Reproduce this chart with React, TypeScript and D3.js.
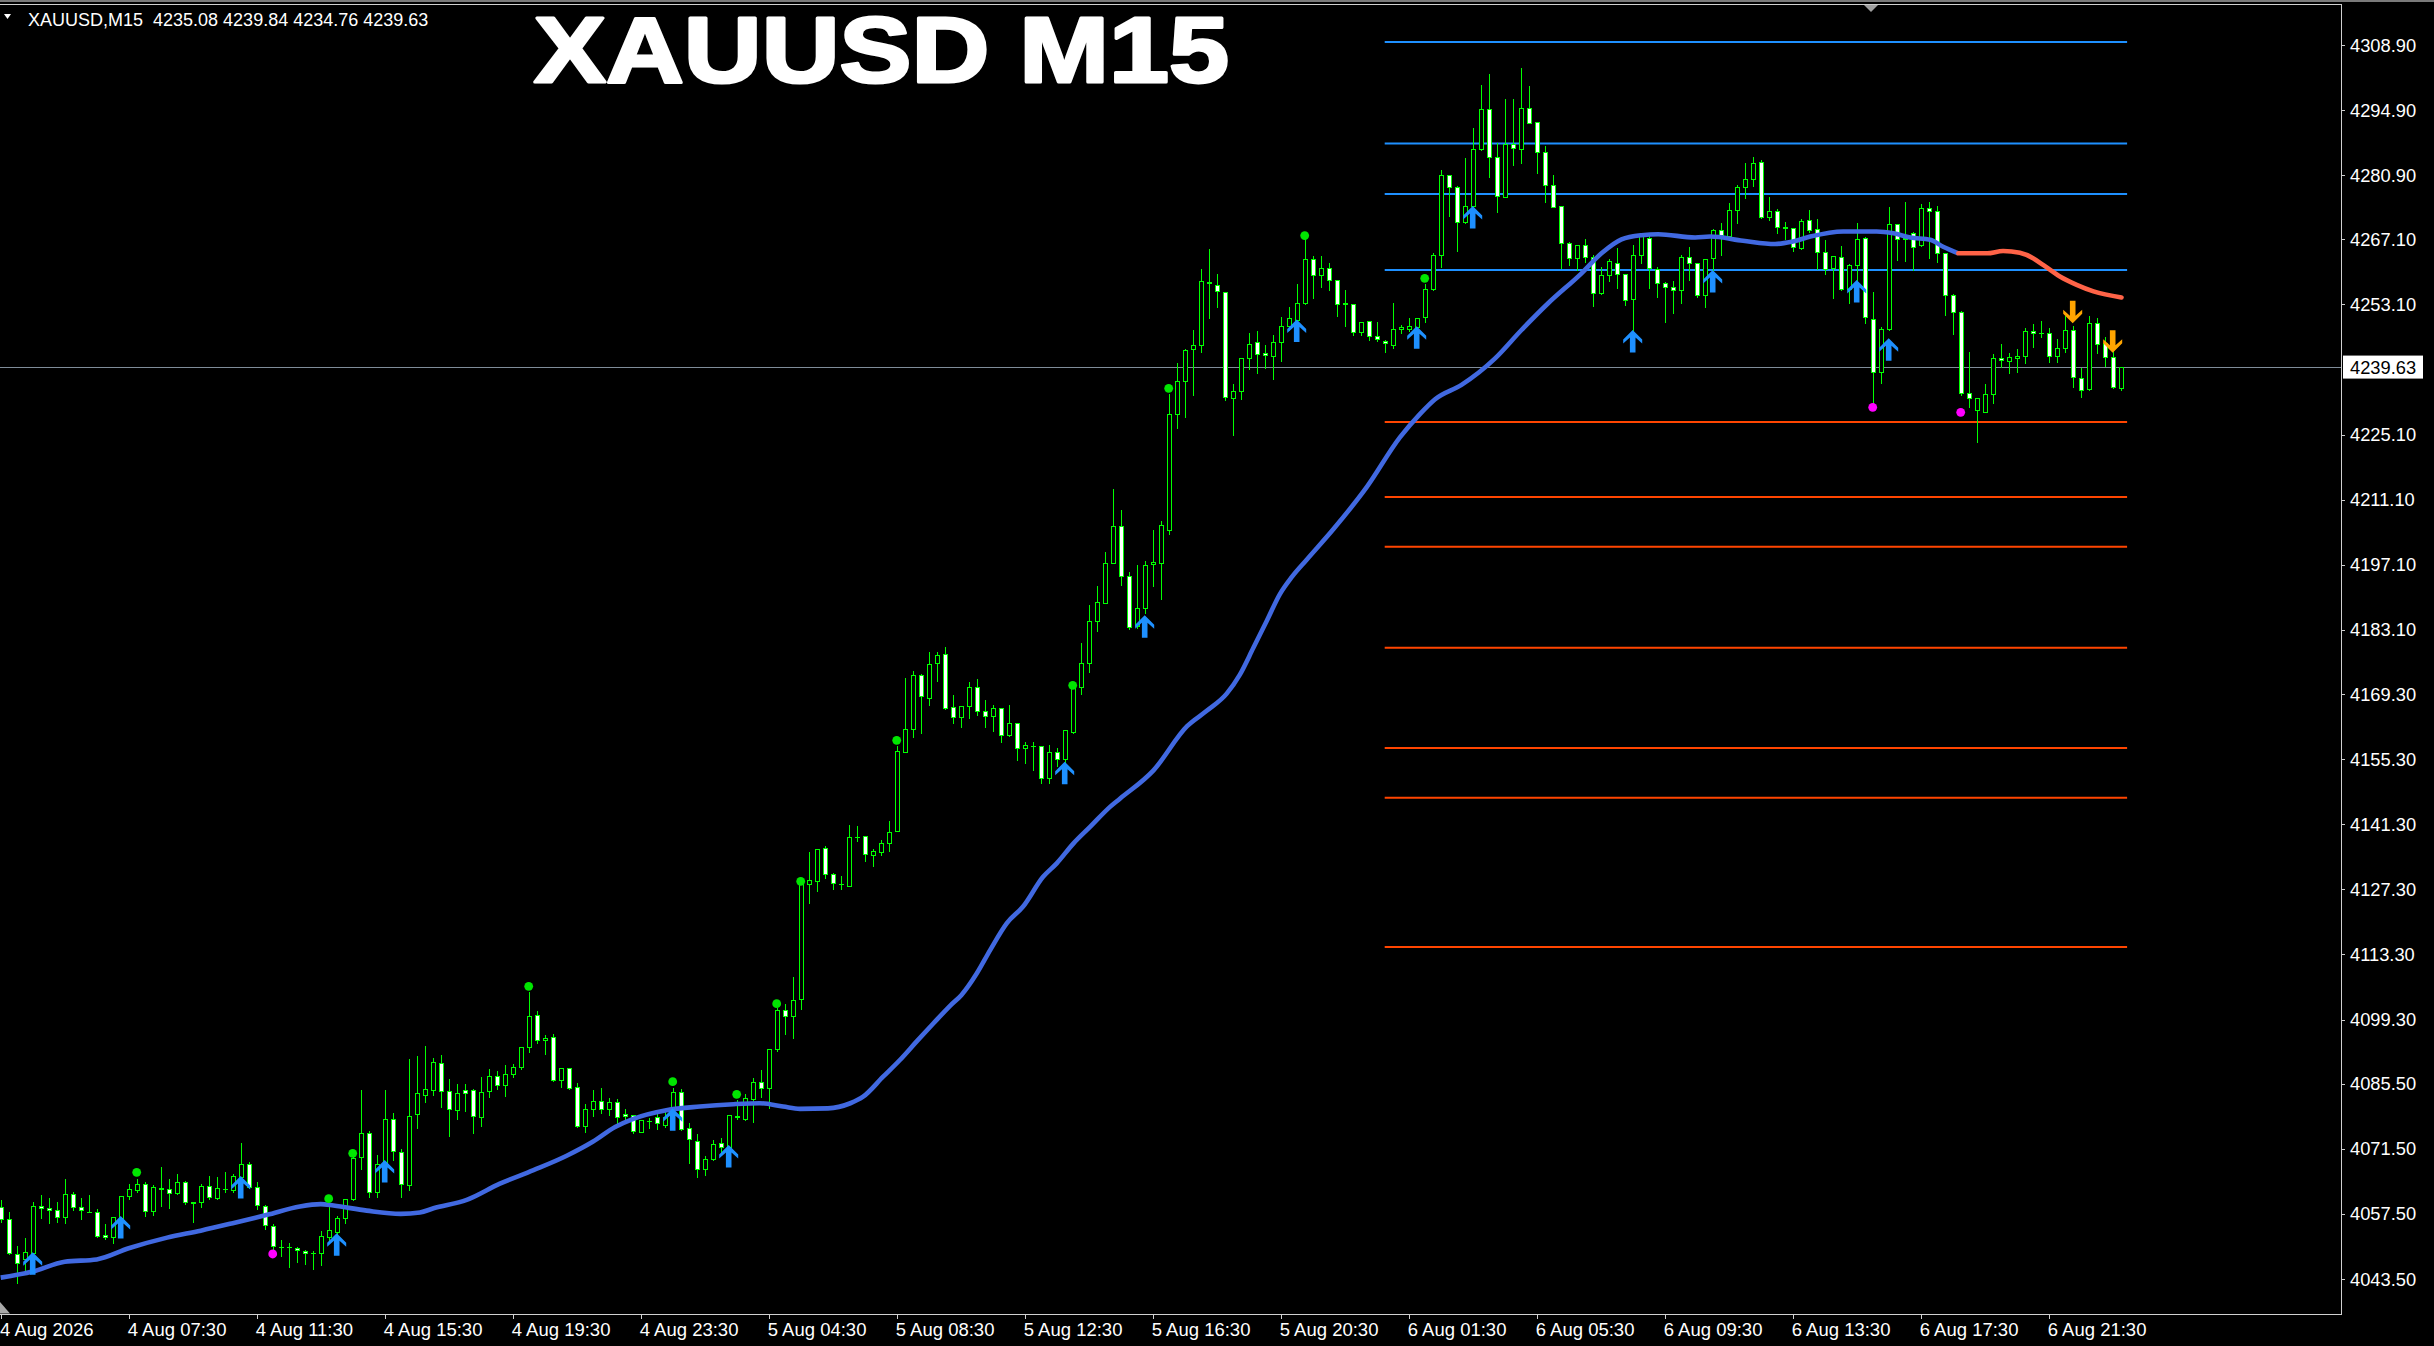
import React from "react";
import * as d3 from "d3";

// ---------- DATA ----------
const opens: number[] = [
4059.06,4056.34,4048.81,4047.81,4049.17,4059.13,4058.85,4058.28,4056.77,4061.72,
4058.92,4057.99,4057.84,4052.90,4052.47,4056.55,4061.36,4062.65,4063.86,4058.13,
4063.15,4062.79,4061.93,4064.29,4059.99,4059.99,4063.58,4061.00,4062.93,4062.65,
4065.52,4068.17,4063.36,4059.28,4054.98,4050.46,4050.32,4050.25,4049.60,4049.03,
4049.03,4052.61,4053.69,4056.70,4060.71,4069.67,4074.98,4062.15,4068.24,4077.99,
4070.89,4063.65,4078.92,4083.15,4084.08,4090.03,4084.01,4079.78,4084.08,4084.08,
4078.27,4083.94,4087.24,4085.16,4087.52,4089.03,4093.33,4100.21,4094.90,4095.48,
4086.23,4088.81,4084.72,4076.48,4080.00,4081.72,4080.14,4081.50,4078.99,4078.85,
4075.19,4077.56,4078.27,4076.70,4080.21,4083.79,4076.05,4073.26,4067.09,4069.31,
4072.68,4071.82,4078.49,4077.99,4082.14,4085.80,4084.51,4092.90,4101.29,4100.00,
4103.65,4128.39,4129.17,4136.13,4130.53,4128.53,4128.10,4138.64,4138.71,4134.62,
4135.41,4137.20,4139.93,4156.92,4161.72,4173.33,4168.53,4175.91,4177.85,4166.45,
4164.30,4166.81,4170.75,4165.59,4164.51,4166.23,4160.57,4163.01,4157.63,4158.21,
4158.14,4151.18,4156.77,4155.41,4161.22,4170.90,4176.06,4184.95,4188.98,4197.54,
4205.35,4194.74,4184.04,4187.91,4197.37,4197.54,4204.53,4229.63,4236.71,4243.46,
4244.28,4257.86,4257.29,4255.81,4232.93,4234.41,4241.57,4244.94,4242.64,4242.06,
4244.94,4248.40,4249.80,4253.34,4262.97,4259.35,4261.00,4258.28,4253.34,4253.17,
4247.16,4249.47,4246.26,4245.19,4244.28,4247.74,4247.75,4248.32,4250.33,4256.35,
4263.66,4280.87,4278.29,4270.76,4274.20,4286.46,4295.06,4284.88,4276.28,4287.68,
4286.46,4295.28,4292.26,4285.81,4278.79,4274.27,4266.24,4263.02,4265.81,4263.38,
4255.49,4259.36,4261.94,4259.58,4254.20,4263.73,4267.32,4260.65,4257.64,4256.78,
4256.21,4263.38,4261.94,4255.13,4263.02,4269.04,4267.82,4273.42,4278.43,4280.01,
4283.67,4271.84,4273.20,4269.69,4269.47,4265.32,4271.19,4269.26,4264.46,4260.87,
4263.38,4256.36,4261.59,4267.32,4249.90,4238.51,4247.75,4270.33,4267.11,4268.40,
4265.89,4273.77,4273.20,4264.10,4255.06,4251.55,4234.13,4230.40,4230.05,4233.77,
4241.52,4241.01,4241.52,4242.02,4247.47,4246.89,4246.89,4242.02,4243.67,4247.61,
4237.21,4234.85,4249.04,4244.74,4241.87,4235.08
];
const highs: number[] = [
4060.64,4058.20,4050.82,4052.54,4060.28,4061.72,4061.07,4060.35,4065.16,4062.43,
4061.07,4061.72,4058.70,4055.48,4056.85,4061.50,4064.08,4065.30,4064.58,4063.86,
4067.81,4065.16,4066.23,4064.80,4060.06,4064.08,4065.80,4065.66,4066.66,4066.23,
4072.97,4068.81,4064.58,4059.64,4055.48,4052.18,4051.46,4050.68,4050.03,4049.82,
4054.05,4059.28,4057.27,4060.93,4070.53,4084.37,4075.55,4070.32,4084.30,4079.35,
4071.61,4091.03,4091.68,4093.83,4091.32,4091.82,4086.66,4085.59,4085.59,4084.51,
4087.24,4088.81,4088.45,4089.74,4089.89,4093.62,4105.52,4101.36,4096.20,4096.34,
4089.03,4088.88,4085.80,4081.29,4084.30,4084.80,4082.58,4082.43,4080.21,4078.99,
4077.84,4078.42,4079.28,4079.85,4084.87,4084.51,4077.20,4074.83,4070.17,4073.54,
4074.12,4078.99,4082.14,4083.44,4086.88,4088.60,4093.11,4102.07,4102.79,4108.67,
4129.67,4135.55,4136.13,4136.84,4131.04,4130.32,4141.36,4141.14,4139.00,4136.13,
4138.06,4142.22,4158.35,4173.04,4174.48,4173.76,4178.56,4178.56,4179.64,4169.25,
4166.74,4172.11,4172.69,4168.17,4167.17,4166.31,4167.17,4163.08,4159.21,4159.21,
4158.21,4158.56,4157.99,4161.57,4171.25,4180.60,4188.60,4192.80,4200.00,4213.58,
4209.06,4195.73,4197.21,4198.19,4204.78,4206.84,4234.00,4240.75,4243.63,4247.82,
4260.91,4265.27,4259.76,4255.89,4236.20,4241.82,4247.16,4247.58,4244.70,4246.75,
4250.70,4252.76,4257.62,4267.33,4263.63,4263.63,4262.23,4258.36,4256.47,4253.50,
4249.55,4249.63,4249.63,4245.77,4253.58,4248.81,4250.47,4250.47,4257.64,4264.45,
4282.23,4280.94,4278.79,4284.74,4291.19,4300.51,4302.95,4288.11,4297.43,4297.43,
4304.24,4300.29,4292.55,4287.39,4281.15,4274.34,4266.82,4266.03,4267.32,4263.95,
4261.37,4263.02,4265.38,4259.65,4266.03,4268.54,4268.54,4261.37,4258.21,4258.36,
4263.95,4265.67,4262.30,4263.02,4269.61,4270.83,4275.21,4279.01,4283.67,4285.03,
4284.31,4276.43,4273.77,4271.12,4269.83,4271.62,4273.56,4271.62,4267.11,4263.60,
4265.89,4261.95,4270.91,4267.82,4255.96,4248.47,4274.28,4270.41,4275.42,4268.97,
4274.99,4275.42,4274.49,4264.24,4255.64,4251.91,4243.09,4233.13,4236.14,4242.59,
4244.74,4242.81,4243.67,4248.33,4249.19,4249.76,4248.33,4245.82,4250.84,4248.69,
4239.72,4250.84,4250.33,4246.32,4243.88,4239.84
];
const lows: number[] = [
4055.84,4048.88,4042.58,4044.94,4047.59,4056.70,4055.62,4055.84,4055.62,4058.35,
4056.48,4057.84,4052.61,4052.04,4051.18,4056.19,4060.64,4062.29,4057.06,4057.34,
4059.28,4058.70,4061.79,4059.56,4055.69,4058.99,4060.78,4060.64,4062.22,4062.29,
4065.16,4063.15,4058.49,4054.33,4049.89,4048.45,4046.02,4047.23,4046.80,4045.59,
4046.52,4051.68,4053.19,4055.48,4060.50,4067.09,4061.07,4061.07,4064.94,4069.10,
4061.21,4062.65,4075.91,4081.64,4083.08,4080.57,4074.33,4077.84,4079.71,4074.83,
4076.48,4082.72,4084.30,4082.86,4087.02,4088.60,4092.40,4094.33,4091.82,4086.16,
4084.87,4084.44,4076.27,4075.19,4078.63,4079.21,4078.78,4076.98,4077.84,4074.83,
4075.12,4076.05,4075.77,4076.27,4079.85,4075.55,4068.53,4065.52,4065.87,4069.10,
4070.53,4070.89,4077.99,4077.70,4077.34,4082.58,4080.21,4092.61,4096.20,4095.41,
4101.50,4124.44,4127.02,4129.82,4127.45,4127.45,4128.03,4137.70,4133.47,4132.40,
4134.69,4135.62,4139.85,4156.84,4160.14,4161.00,4166.95,4172.18,4166.09,4163.15,
4162.29,4164.23,4164.80,4162.15,4161.43,4159.07,4160.28,4155.12,4154.41,4152.97,
4150.25,4150.25,4153.83,4154.55,4160.86,4169.30,4174.10,4182.90,4188.90,4197.45,
4192.84,4183.21,4183.54,4186.67,4192.60,4189.80,4203.71,4226.59,4228.89,4233.58,
4242.97,4250.29,4252.52,4232.60,4224.94,4232.76,4239.18,4238.36,4239.35,4237.04,
4241.00,4247.58,4249.55,4253.17,4254.57,4256.80,4256.22,4250.70,4248.40,4246.59,
4246.59,4245.52,4245.27,4242.80,4243.63,4246.92,4247.40,4247.96,4249.40,4256.21,
4261.23,4272.19,4264.67,4270.54,4273.77,4286.31,4280.44,4273.05,4276.14,4283.09,
4283.59,4292.05,4281.30,4275.20,4273.98,4261.01,4261.58,4260.51,4262.30,4252.77,
4255.35,4258.21,4256.64,4252.98,4247.61,4262.09,4256.71,4254.77,4249.40,4251.19,
4253.34,4258.36,4254.77,4252.62,4260.51,4263.81,4267.68,4270.55,4276.07,4278.58,
4271.62,4271.26,4268.40,4267.18,4264.67,4264.96,4268.76,4260.66,4259.65,4254.42,
4256.21,4253.34,4258.36,4249.19,4231.84,4236.14,4247.61,4262.66,4262.52,4260.51,
4265.67,4263.02,4262.30,4250.84,4246.75,4233.63,4230.98,4223.60,4229.97,4231.98,
4239.58,4238.43,4238.65,4240.44,4244.03,4246.18,4240.80,4240.80,4242.95,4235.28,
4233.13,4234.78,4242.73,4239.87,4235.06,4234.76
];
const closes: number[] = [
4056.34,4049.17,4046.88,4049.24,4059.13,4058.70,4058.35,4056.77,4061.72,4058.92,
4058.28,4057.92,4052.83,4052.47,4056.77,4061.29,4062.79,4063.86,4058.13,4063.22,
4062.79,4061.93,4064.29,4059.99,4059.92,4063.43,4061.07,4063.00,4062.86,4065.59,
4068.17,4063.36,4059.42,4055.05,4050.68,4050.39,4050.30,4049.67,4049.03,4049.05,
4052.76,4054.05,4056.55,4060.64,4069.46,4074.83,4062.15,4068.17,4077.84,4070.96,
4063.86,4078.56,4083.44,4084.30,4090.10,4083.94,4080.00,4083.44,4083.44,4078.49,
4083.79,4087.24,4085.16,4087.52,4089.03,4093.33,4100.00,4094.90,4095.41,4086.23,
4088.81,4084.65,4076.48,4080.00,4081.72,4080.14,4081.50,4078.42,4078.49,4075.41,
4077.63,4077.55,4076.98,4078.27,4083.79,4075.69,4073.54,4067.09,4069.24,4072.47,
4071.82,4078.71,4078.42,4082.36,4085.80,4084.51,4092.90,4101.29,4100.00,4103.44,
4129.17,4129.32,4135.91,4130.53,4128.60,4128.46,4138.64,4138.56,4134.84,4135.55,
4137.20,4139.57,4156.99,4161.72,4173.33,4168.81,4175.70,4177.63,4166.23,4164.30,
4166.66,4170.75,4165.66,4164.51,4166.23,4160.43,4163.01,4157.63,4158.35,4158.14,
4151.18,4156.77,4155.27,4161.57,4170.89,4176.06,4184.95,4189.00,4197.54,4205.35,
4194.74,4183.79,4187.91,4196.96,4197.70,4205.77,4229.63,4236.71,4243.21,4244.28,
4258.11,4257.62,4255.97,4233.17,4234.41,4241.57,4244.70,4242.39,4242.23,4244.94,
4248.40,4250.21,4253.34,4262.97,4259.35,4261.00,4258.28,4253.17,4253.26,4247.16,
4249.22,4246.34,4245.68,4244.86,4247.74,4248.15,4248.46,4250.11,4256.35,4263.66,
4280.87,4278.29,4270.76,4274.20,4286.46,4295.06,4284.88,4276.42,4287.68,4286.67,
4295.28,4292.19,4285.96,4278.79,4274.13,4266.24,4263.02,4265.89,4263.38,4255.49,
4259.36,4262.44,4259.58,4254.06,4263.66,4268.04,4260.87,4257.64,4256.78,4256.21,
4263.38,4261.94,4255.13,4262.80,4269.11,4267.97,4273.42,4278.29,4280.01,4283.45,
4271.84,4273.20,4269.69,4269.62,4265.53,4271.05,4269.11,4264.31,4260.66,4263.52,
4256.36,4261.59,4267.18,4250.33,4238.51,4247.75,4270.33,4267.18,4267.47,4265.39,
4273.77,4273.20,4264.10,4255.14,4251.55,4233.99,4232.91,4232.91,4233.77,4241.52,
4241.16,4241.87,4242.09,4247.32,4246.89,4246.90,4242.02,4243.67,4247.61,4237.57,
4234.71,4249.04,4244.53,4241.87,4235.42,4239.63
];

// moving average (bar position, price)
const maBars: number[] = [0,4,8,12,16,20.8,25,29,33.3,37.4,40,41.6,45.75,50,52.4,54.1,58.25,62.4,66.6,70.75,74,76.8,79,83.2,87.4,91.6,94.9,97.8,99.9,103.4,106.2,107.8,110.3,112.4,114.5,116.6,118.7,120.1,122,123.7,125.75,127.8,130.3,132,134.1,136.2,138.7,139.9,144.1,148.3,150.75,153.25,154.9,156.6,158.25,159.9,161.4,163.25,166.6,170.75,174.9,177.4,179.3,182.6,186.8,190.1,193.4,197.6,200.1,202.6,205.1,207.2,211.8,213.7,217.8,221.8,223.9,226.2,230.3,234.5,236.6,238.7,241.2,242.8,244.7];
const maValues: number[] = [4043.8,4045.1,4047.2,4047.7,4050.1,4052.4,4053.9,4055.5,4057.3,4059.1,4059.6,4059.3,4058.2,4057.5,4057.8,4058.7,4060.5,4064.0,4066.9,4070.0,4073.0,4076.2,4077.9,4079.8,4080.6,4081.1,4081.3,4080.6,4080.1,4080.2,4081.3,4082.7,4087.0,4090.6,4094.6,4098.5,4102.3,4104.6,4109.2,4114.3,4120.0,4123.6,4130.0,4132.9,4137.2,4140.8,4145.1,4146.8,4152.9,4162.4,4165.7,4169.4,4173.5,4179.3,4185.0,4190.8,4194.5,4198.2,4204.8,4213.8,4224.5,4229.5,4232.7,4235.8,4241.5,4247.6,4253.3,4259.8,4264.1,4267.1,4268.0,4268.2,4267.5,4267.7,4266.8,4266.1,4266.6,4267.7,4268.8,4268.8,4268.4,4267.5,4267.0,4265.5,4264.1];
const maDownBars: number[] = [244.7,248.3,250.3,252.4,254.1,255.3,257.4,259.5,261.6,265.1];
const maDownValues: number[] = [4264.1,4264.1,4264.6,4264.2,4263.0,4261.6,4259.1,4257.3,4255.9,4254.6];

// signal markers
const greenDotBars: number[] = [17,41,44,66,84,92,97,100,112,134,146,163,178];
const greenDotPrices: number[] = [4066.45,4060.78,4070.53,4106.45,4085.94,4083.22,4102.72,4129.03,4159.35,4171.18,4235.07,4267.91,4258.72];
const magentaDotBars: number[] = [34,234,245];
const magentaDotPrices: number[] = [4048.88,4230.98,4229.90];
const upArrowBars: number[] = [4,15,30,42,48,84,91,133,143,162,177,184,204,214,232,236];
const upArrowPrices: number[] = [4049.24,4057.05,4065.65,4053.33,4069.09,4080.21,4072.32,4154.76,4186.27,4249.88,4248.40,4274.27,4247.60,4260.51,4258.36,4245.82];
const downArrowBars: number[] = [259,264];
const downArrowPrices: number[] = [4249.05,4242.72];

// horizontal levels
const levelStartBar = 173;
const levelEndBar = 265.8;
const blueLevels: number[] = [4309.55,4287.7,4276.85,4260.5];
const redLevels: number[] = [4227.82,4211.69,4201.0,4179.25,4157.7,4147.0,4114.92];

// axes
const yTickValues: number[] = [4308.9,4294.9,4280.9,4267.1,4253.1,4225.1,4211.1,4197.1,4183.1,4169.3,4155.3,4141.3,4127.3,4113.3,4099.3,4085.5,4071.5,4057.5,4043.5];
const xTickBars: number[] = [0,16,32,48,64,80,96,112,128,144,160,176,192,208,224,240,256];
const xTickLabels: string[] = ["4 Aug 2026","4 Aug 07:30","4 Aug 11:30","4 Aug 15:30","4 Aug 19:30","4 Aug 23:30","5 Aug 04:30","5 Aug 08:30","5 Aug 12:30","5 Aug 16:30","5 Aug 20:30","6 Aug 01:30","6 Aug 05:30","6 Aug 09:30","6 Aug 13:30","6 Aug 17:30","6 Aug 21:30"];

const symbol = "XAUUSD";
const timeframe = "M15";

export default function App() {
  const W = 2434, H = 1346;
  const chartRight = 2341.5, chartTop = 4.5, chartBottom = 1314.5;
  const x = d3.scaleLinear().domain([0, 265]).range([0.7, 2120.7]);
  const y = d3.scaleLinear().domain([4043.5, 4308.9]).range([1279, 45]);
  const font = "'Liberation Sans', Arial, sans-serif";
  const snap = (v: number) => Math.round(v) + 0.5;
  const lime = "#00ff00";
  const n = opens.length;
  const last = n - 1;
  const curPrice = closes[last];

  const maLine = d3.line<[number, number]>()
    .x((d) => x(d[0]))
    .y((d) => y(d[1]))
    .curve(d3.curveMonotoneX);
  const maUp = maLine(maBars.map((b, i) => [b, maValues[i]] as [number, number])) || "";
  const maDown = maLine(maDownBars.map((b, i) => [b, maDownValues[i]] as [number, number])) || "";

  const upArrow = (cx: number, ty: number) => {
    const p = [[0,0],[9.5,9.5],[9.5,13.5],[2.8,7.5],[2.8,22.5],[-2.8,22.5],[-2.8,7.5],[-9.5,13.5],[-9.5,9.5]];
    return p.map(([a, b]) => `${cx + a},${ty + b}`).join(" ");
  };
  const downArrow = (cx: number, by: number) => {
    const p = [[0,0],[9.5,-9.5],[9.5,-13.5],[2.8,-7.5],[2.8,-22.5],[-2.8,-22.5],[-2.8,-7.5],[-9.5,-13.5],[-9.5,-9.5]];
    return p.map(([a, b]) => `${cx + a},${by + b}`).join(" ");
  };

  const candles = opens.map((o, i) => {
    const h = highs[i], l = lows[i], c = closes[i];
    const cx = snap(x(i));
    const top = snap(y(Math.max(o, c)));
    const bot = snap(y(Math.min(o, c)));
    const bull = c >= o;
    return (
      <g key={i}>
        <line x1={cx} x2={cx} y1={snap(y(h))} y2={snap(y(l))} stroke={lime} strokeWidth={1} />
        {bot - top >= 1 ? (
          <rect x={cx - 2} y={top} width={4} height={bot - top} fill={bull ? "#000000" : "#ffffff"} stroke={lime} strokeWidth={1} />
        ) : (
          <line x1={cx - 2.5} x2={cx + 2.5} y1={top} y2={top} stroke={lime} strokeWidth={1} />
        )}
      </g>
    );
  });

  const curY = snap(y(curPrice));
  const header = `${symbol},${timeframe}  ${opens[last].toFixed(2)} ${highs[last].toFixed(2)} ${lows[last].toFixed(2)} ${closes[last].toFixed(2)}`;

  return (
    <svg width={W} height={H} viewBox={`0 0 ${W} ${H}`}
      style={{ position: "absolute", left: 0, top: 0, display: "block", background: "#000" }}>
      <defs>
        <clipPath id="plot">
          <rect x={0} y={chartTop} width={chartRight} height={chartBottom - chartTop} />
        </clipPath>
      </defs>
      <rect x={0} y={0} width={W} height={H} fill="#000000" />
      <rect x={0} y={0} width={W} height={2} fill="#7a7a7a" />

      <g clipPath="url(#plot)">
        {/* current price line */}
        <line x1={0} x2={chartRight} y1={curY} y2={curY} stroke="#7f8c99" strokeWidth={1} shapeRendering="crispEdges" />
        {/* levels */}
        {blueLevels.map((v, i) => (
          <line key={"b" + i} x1={x(levelStartBar)} x2={x(levelEndBar)} y1={y(v)} y2={y(v)} stroke="#1e90ff" strokeWidth={2} />
        ))}
        {redLevels.map((v, i) => (
          <line key={"r" + i} x1={x(levelStartBar)} x2={x(levelEndBar)} y1={y(v)} y2={y(v)} stroke="#ff4500" strokeWidth={2} />
        ))}
        {/* candles */}
        <g shapeRendering="crispEdges">{candles}</g>
        {/* moving average */}
        <path d={maUp} fill="none" stroke="#4169e1" strokeWidth={4.6} strokeLinejoin="round" />
        <path d={maDown} fill="none" stroke="#ff6347" strokeWidth={4.6} strokeLinejoin="round" strokeLinecap="round" />
        {/* dots */}
        {greenDotBars.map((b, i) => (
          <circle key={"g" + i} cx={x(b)} cy={y(greenDotPrices[i])} r={4.4} fill="#00e600" />
        ))}
        {magentaDotBars.map((b, i) => (
          <circle key={"m" + i} cx={x(b)} cy={y(magentaDotPrices[i])} r={4.4} fill="#ff00ff" />
        ))}
        {/* arrows */}
        {upArrowBars.map((b, i) => (
          <polygon key={"u" + i} points={upArrow(x(b), y(upArrowPrices[i]))} fill="#1e90ff" />
        ))}
        {downArrowBars.map((b, i) => (
          <polygon key={"d" + i} points={downArrow(x(b), y(downArrowPrices[i]))} fill="#ffa500" />
        ))}
      </g>

      {/* frame */}
      <line x1={0} x2={chartRight} y1={chartTop} y2={chartTop} stroke="#d0d0d0" strokeWidth={1} shapeRendering="crispEdges" />
      <line x1={chartRight} x2={chartRight} y1={chartTop} y2={chartBottom} stroke="#d0d0d0" strokeWidth={1} shapeRendering="crispEdges" />
      <line x1={0} x2={chartRight} y1={chartBottom} y2={chartBottom} stroke="#d0d0d0" strokeWidth={1} shapeRendering="crispEdges" />
      <polygon points="1864,5 1878,5 1871,12" fill="#a0a0a0" />
      <polygon points="0,1302 10,1313.5 0,1313.5" fill="#a9a9a9" />

      {/* header */}
      <polygon points="4,14 11,14 7.5,19" fill="#ffffff" />
      <text x={28} y={26} fill="#ffffff" fontFamily={font} fontSize={18} style={{ whiteSpace: "pre" }}>{header}</text>

      {/* title */}
      <text x={534} y={81.5} fill="#ffffff" stroke="#ffffff" strokeWidth={3} strokeLinejoin="round"
        fontFamily={font} fontWeight="bold" fontSize={92}
        textLength={695} lengthAdjust="spacingAndGlyphs">{`${symbol} ${timeframe}`}</text>

      {/* right axis */}
      {yTickValues.map((v, i) => (
        <g key={"yt" + i}>
          <line x1={chartRight} x2={chartRight + 3} y1={snap(y(v))} y2={snap(y(v))} stroke="#d0d0d0" shapeRendering="crispEdges" />
          <text x={2350} y={y(v) + 6.5} fill="#ffffff" fontFamily={font} fontSize={18.3}>{v.toFixed(2)}</text>
        </g>
      ))}
      <rect x={2343} y={y(curPrice) - 11.5} width={80} height={23} fill="#ffffff" />
      <text x={2350} y={y(curPrice) + 6.5} fill="#000000" fontFamily={font} fontSize={18.3}>{curPrice.toFixed(2)}</text>

      {/* bottom axis */}
      {xTickBars.map((b, i) => (
        <g key={"xt" + i}>
          <line x1={snap(x(b))} x2={snap(x(b))} y1={chartBottom} y2={chartBottom + 4} stroke="#d0d0d0" shapeRendering="crispEdges" />
          <text x={i === 0 ? 0 : x(b) - 1} y={1336} fill="#ffffff" fontFamily={font} fontSize={18.5}>{xTickLabels[i]}</text>
        </g>
      ))}
    </svg>
  );
}
